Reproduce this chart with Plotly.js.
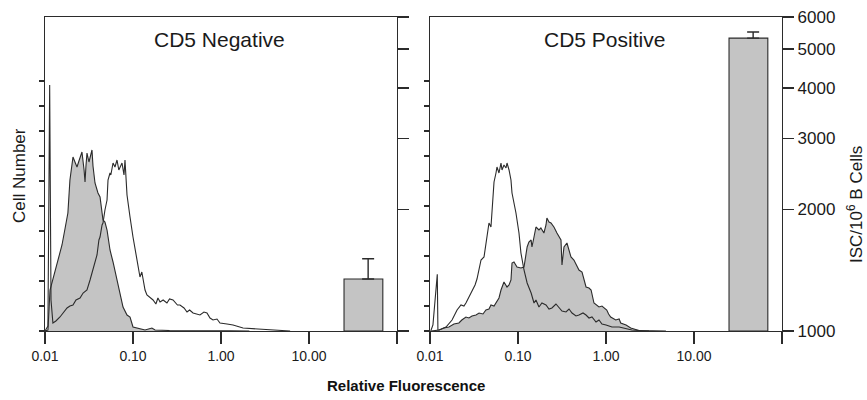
<!DOCTYPE html>
<html>
<head>
<meta charset="utf-8">
<script src="https://cdn.plot.ly/plotly-3.0.1.min.js"></script>
<style>html,body{margin:0;padding:0;background:#fff;}#chart{width:867px;height:400px;}</style>
</head>
<body>
<div id="chart"></div>
<script>
// ---- Data ----
var panelTitles = ["CD5 Negative", "CD5 Positive"];
var xTickVals = [0.01, 0.1, 1, 10];
var xTickText = ["0.01", "0.10", "1.00", "10.00"];
var xEndTick = [100];
var iscTickVals = [1000, 2000, 3000, 4000, 5000, 6000];
var iscTickText = ["1000", "2000", "3000", "4000", "5000", "6000"];
var cellTickVals = [0, 10, 20, 30, 40, 50, 60, 70, 80, 90, 100];

// CD5 Negative: filled (shaded) histogram
var negFilledX = [0.0100,0.0108,0.0114,0.0130,0.0141,0.0156,0.0169,0.0182,0.0192,0.0203,0.0208,0.0219,0.0231,0.0243,0.0263,0.0278,0.0285,0.0292,0.0300,0.0316,0.0342,0.0351,0.0370,0.0400,0.0422,0.0456,0.0480,0.0507,0.0548,0.0593,0.0658,0.0711,0.0770,0.0855,0.0925,0.100,0.111,0.137,0.164,0.178,0.26,0.577,1.27,2.1];
var negFilledY = [0,0.4,16.4,24.4,29,34.4,41,47.2,60.4,66,69.6,67.6,65.6,68,71.6,64.4,59.6,66,71.2,67.6,72.4,66,59.2,55.2,53.6,44.4,43.6,40.4,32.4,27.6,20.4,14.4,9.6,6.4,5.6,1.6,1.2,0.4,1.2,0.4,0.2,0.3,0.1,0];
// CD5 Negative: open histogram
var negOpenX = [0.0100,0.0108,0.0113,0.0117,0.0123,0.0133,0.0148,0.0160,0.0178,0.0192,0.0208,0.0225,0.0250,0.0271,0.0300,0.0325,0.0351,0.0370,0.0390,0.0410,0.0422,0.0445,0.0456,0.0480,0.0507,0.0520,0.0548,0.0560,0.0593,0.0624,0.0658,0.0690,0.0711,0.0750,0.0790,0.0811,0.0855,0.0880,0.0925,0.100,0.105,0.111,0.120,0.126,0.130,0.137,0.144,0.156,0.169,0.182,0.192,0.203,0.220,0.243,0.260,0.285,0.320,0.342,0.380,0.411,0.440,0.481,0.530,0.577,0.640,0.693,0.750,0.811,0.900,0.974,1.17,1.37,1.78,2.1,2.77,3.6,4.7,6.1];
var negOpenY = [0,2,98.4,12.4,3.2,4,5.6,7.2,9.2,10,10.4,12.4,13.2,15.2,16.4,20.4,24.4,27.2,30.4,36.4,37.6,42.4,43.2,48.4,52.4,60.4,63.2,62.4,67.2,65.6,68.4,64.4,65.6,67.2,62.4,68.4,54.4,50.4,45.6,37.6,33.2,29.6,21.6,23.6,20.4,16.4,14.4,13.2,12.4,10.8,13.2,11.6,12.4,11.2,12.8,12.4,10.4,10.4,9.2,7.6,8.4,7.2,6.8,6.4,7.6,7.2,5.2,4.4,4.8,3.2,2.8,2.4,1.2,1.0,0.8,0.4,0.2,0];

// CD5 Positive: filled (shaded) histogram
var posFilledX = [0.0103,0.0127,0.0144,0.0164,0.0187,0.0213,0.0230,0.0256,0.0277,0.0300,0.0333,0.0361,0.0400,0.0432,0.0468,0.0493,0.0534,0.0562,0.0608,0.0641,0.0693,0.0750,0.0791,0.0832,0.0855,0.0900,0.0974,0.108,0.117,0.127,0.133,0.141,0.144,0.152,0.160,0.173,0.182,0.197,0.208,0.213,0.225,0.237,0.256,0.277,0.308,0.316,0.333,0.360,0.400,0.432,0.470,0.493,0.534,0.593,0.641,0.677,0.730,0.832,0.900,0.950,1.02,1.07,1.13,1.29,1.41,1.47,1.69,1.91,2.37,4.8];
var posFilledY = [0,0.4,1.2,1.6,2.8,3.2,4.4,5.6,5.2,6,6.4,7.2,6.8,8.4,8.8,10.4,10,11.2,13.2,16.4,19.6,17.6,18.4,20.4,27.2,27.6,25.6,25.2,25.6,33.6,35.6,36.4,33.6,37.6,41.6,40.4,41.2,39.2,42.4,45.2,43.6,43.2,41.6,39.2,36.4,26.4,33.6,35.2,29.6,28.4,26,24.4,23.6,17.6,17.2,16.4,11.2,9.6,10,9.2,8.4,6.8,5.6,4.4,4.8,3.2,2.4,1.2,0.2,0];
// CD5 Positive: open histogram
var posOpenX = [0.0102,0.0108,0.0121,0.0123,0.0127,0.0152,0.0178,0.0203,0.0225,0.0243,0.0256,0.0277,0.0300,0.0325,0.0342,0.0361,0.0380,0.0411,0.0445,0.0468,0.0493,0.0507,0.0534,0.0562,0.0577,0.0608,0.0641,0.0658,0.0693,0.0731,0.0750,0.0791,0.0832,0.0855,0.0948,0.1026,0.108,0.117,0.127,0.141,0.152,0.160,0.173,0.187,0.208,0.225,0.243,0.270,0.292,0.316,0.351,0.380,0.411,0.456,0.493,0.548,0.593,0.641,0.693,0.770,0.832,0.900,1.00,1.17,1.41,1.69,1.97,2.37,3.08];
var posOpenY = [0,2.4,22.7,0.5,0.4,1.6,4.4,8.4,10.4,10,11.2,13.6,16.4,18.4,20.8,24.4,28.4,29.6,39.2,43.2,41.6,49.6,59.6,63.2,65.6,63.2,67.2,64.4,66.4,65.2,67.2,64.4,60.4,55.2,47.2,39.2,31.2,24.4,19.2,15.2,11.2,12.4,9.6,11.2,10.4,8.8,9.2,10.8,9.6,8,7.6,8.8,7.2,6,6.4,7.2,6.4,5.2,5.6,3.6,4.4,2.8,2.4,1.6,1.6,0.8,0.4,0.2,0];

// ISC per 10^6 B cells (bars) with upper error
var barPos = [47, 47];
var barWidth = [44, 44];
var iscValues = [1345, 5320];
var iscErrUp = [165, 190];
var iscBase = 1000;

// ---- Styles ----
var lineCol = "#2b2b2b";
var fillCol = "rgb(196,196,196)";
var font = "Liberation Sans, Arial, Helvetica, sans-serif";
var txtCol = "#1a1a1a";

function hist(x, y, xa, ya, filled) {
  var t = {x: x, y: y, xaxis: xa, yaxis: ya, type: "scatter", mode: "lines",
    line: {color: lineCol, width: 1.1}, hoverinfo: "skip", showlegend: false};
  if (filled) { t.fill = "tozeroy"; t.fillcolor = fillCol; }
  return t;
}
function bar(i, xa, ya) {
  return {type: "bar", x: [barPos[i]], y: [iscValues[i] - iscBase], base: [iscBase],
    width: [barWidth[i]], xaxis: xa, yaxis: ya, showlegend: false, hoverinfo: "skip",
    marker: {color: fillCol, line: {color: lineCol, width: 1.1}},
    error_y: {type: "data", symmetric: false, array: [iscErrUp[i]], arrayminus: [0],
      color: lineCol, thickness: 1.4, width: 6}};
}

var data = [
  hist(negFilledX, negFilledY, "x", "y", true),
  hist(negOpenX, negOpenY, "x", "y", false),
  bar(0, "x", "y3"),
  hist(posFilledX, posFilledY, "x2", "y2", true),
  hist(posOpenX, posOpenY, "x2", "y2", false),
  bar(1, "x2", "y4")
];

var W = 867, H = 400;
var yDom = [1 - 331 / H, 1 - 17 / H];
function xAxis(d) {
  return {domain: d, type: "log", range: [-2, 2], tickvals: xTickVals, ticktext: xTickText,
    ticks: "outside", ticklen: 12, tickwidth: 1.2, tickcolor: lineCol, showline: true, linecolor: lineCol,
    linewidth: 1.2, mirror: true, showgrid: false, zeroline: false,
    minor: {tickvals: xEndTick, ticks: "outside", ticklen: 12, tickwidth: 1.2, tickcolor: lineCol, showgrid: false},
    tickfont: {family: font, size: 14, color: txtCol}};
}
function cellAxis(anchor) {
  return {domain: yDom, anchor: anchor, range: [0, 125.6], tickvals: cellTickVals, showticklabels: false,
    ticks: "outside", ticklen: 5, tickwidth: 1.2, tickcolor: lineCol, showline: true, linecolor: lineCol,
    linewidth: 1.2, showgrid: false, zeroline: false};
}
function iscAxis(over, anchor, labels) {
  return {overlaying: over, anchor: anchor, side: "right", type: "log",
    range: [3, Math.log10(6000)], tickvals: iscTickVals, ticktext: iscTickText, showticklabels: labels,
    ticks: "outside", ticklen: 11, tickwidth: 1.2, tickcolor: lineCol, showline: true, linecolor: lineCol,
    linewidth: 1.2, showgrid: false, zeroline: false,
    tickfont: {family: font, size: 17, color: txtCol}};
}

var layout = {
  width: W, height: H, margin: {l: 0, r: 0, t: 0, b: 0},
  paper_bgcolor: "#fff", plot_bgcolor: "#fff",
  bargap: 0,
  xaxis: xAxis([45 / W, 397 / W]),
  xaxis2: Object.assign(xAxis([430 / W, 782 / W]), {anchor: "y2"}),
  yaxis: cellAxis("x"),
  yaxis2: cellAxis("x2"),
  yaxis3: iscAxis("y", "x", false),
  yaxis4: iscAxis("y2", "x2", true),
  annotations: [
    {text: panelTitles[0], xref: "paper", yref: "paper", x: 220 / W, y: 1 - 39 / H, showarrow: false,
      xanchor: "center", yanchor: "middle", font: {family: font, size: 21, color: txtCol}},
    {text: panelTitles[1], xref: "paper", yref: "paper", x: 604 / W, y: 1 - 40 / H, showarrow: false,
      xanchor: "center", yanchor: "middle", font: {family: font, size: 21, color: txtCol}},
    {text: "Cell Number", xref: "paper", yref: "paper", x: 20 / W, y: 1 - 176 / H, showarrow: false,
      textangle: -90, xanchor: "center", yanchor: "middle", font: {family: font, size: 17, color: txtCol}},
    {text: "ISC/10<sup>6</sup> B Cells", xref: "paper", yref: "paper", x: 855 / W, y: 1 - 205 / H, showarrow: false,
      textangle: -90, xanchor: "center", yanchor: "middle", font: {family: font, size: 17, color: txtCol}},
    {text: "<b>Relative Fluorescence</b>", xref: "paper", yref: "paper", x: 406 / W, y: 1 - 385 / H, showarrow: false,
      xanchor: "center", yanchor: "middle", font: {family: font, size: 15, color: "#111"}}
  ]
};

Plotly.newPlot("chart", data, layout, {staticPlot: true, displayModeBar: false});
</script>
</body>
</html>
